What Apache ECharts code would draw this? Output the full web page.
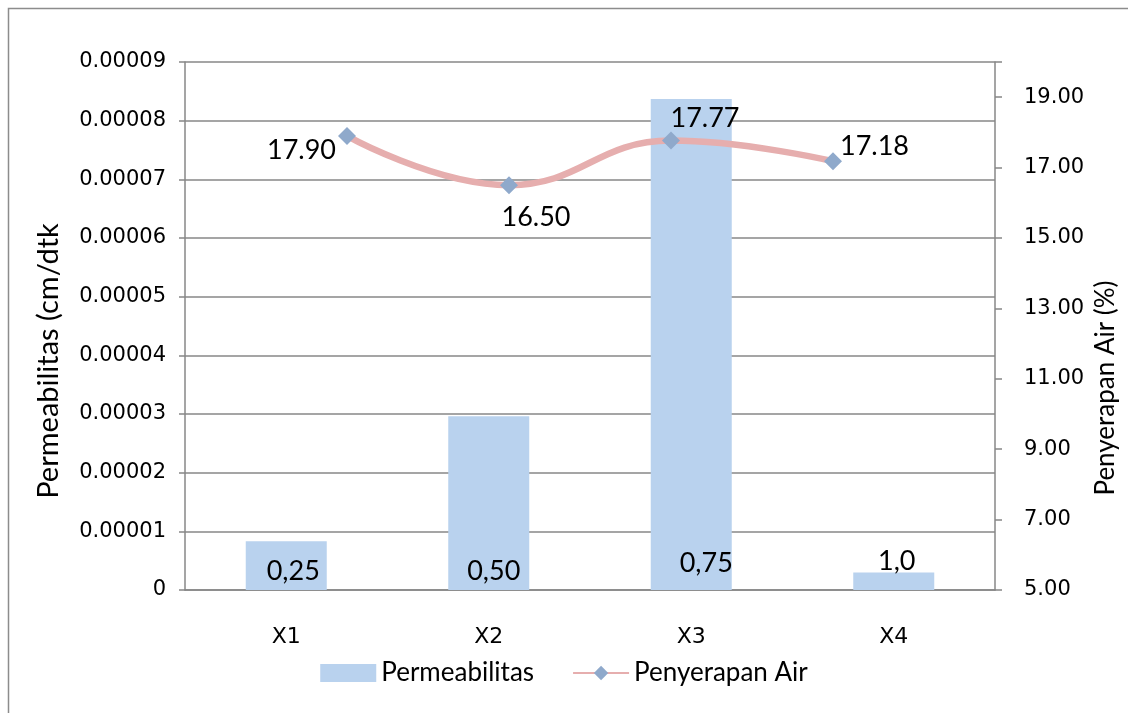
<!DOCTYPE html>
<html>
<head>
<meta charset="utf-8">
<script src="https://cdn.jsdelivr.net/npm/echarts@6/dist/echarts.min.js"></script>
<style>html,body{margin:0;padding:0;background:#fff}#c{width:1128px;height:713px}</style>
</head>
<body>
<div id="c"></div>
<script>
const categories = ['X1', 'X2', 'X3', 'X4'];
const permeabilitas = [0.0000083, 0.0000296, 0.0000837, 0.0000030];
const barLabels = ['0,25', '0,50', '0,75', '1,0'];
const penyerapanAir = [17.90, 16.50, 17.77, 17.18];
const leftAxisTitle = 'Permeabilitas (cm/dtk';
const rightAxisTitle = 'Penyerapan Air (%)';

const chart = echarts.init(document.getElementById('c'));
const axisGray = '#878787';
const tickFont = 'DejaVu Sans';
const labelFont = 'Lato';

const barLabelCfg = [
  { offset: [7, 0] }, { offset: [5, 0] }, { offset: [15, -8] }, { offset: [3, -10] }
];
const lineLabelCfg = [
  { position: 'left', distance: 2, offset: [0, 14] },
  { position: 'bottom', distance: 10, offset: [27, 0] },
  { position: 'top', distance: 0, offset: [34, 0] },
  { position: 'right', distance: 0, offset: [-2, -15] }
];

const option = {
  animation: false,
  backgroundColor: '#fff',
  graphic: [{
    type: 'rect', shape: { x: 8.5, y: 8.5, width: 1130, height: 720 },
    style: { fill: 'none', stroke: '#8c8c8c', lineWidth: 1.5 }, silent: true
  }, {
    type: 'text', x: 49, y: 361, rotation: Math.PI / 2, silent: true,
    style: { text: leftAxisTitle, fontFamily: labelFont, fontSize: 29, fill: '#000', align: 'center', verticalAlign: 'middle' }
  }, {
    type: 'text', x: 1106, y: 388, rotation: Math.PI / 2, silent: true,
    style: { text: rightAxisTitle, fontFamily: labelFont, fontSize: 26, fill: '#000', align: 'center', verticalAlign: 'middle' }
  }],
  grid: { left: 185, right: 133, top: 62, bottom: 123 },
  legend: {
    bottom: 22, left: 'center', itemGap: 38, itemWidth: 56, itemHeight: 18,
    textStyle: { fontFamily: labelFont, fontSize: 26, color: '#000' },
    data: [
      { name: 'Permeabilitas', icon: 'rect' },
      { name: 'Penyerapan Air' }
    ]
  },
  xAxis: [{
    type: 'category', data: categories, boundaryGap: true,
    axisLine: { lineStyle: { color: axisGray, width: 1.5 } },
    axisTick: { length: 7, lineStyle: { color: axisGray, width: 1.5 } },
    axisLabel: { fontFamily: tickFont, fontSize: 22, color: '#000', margin: 36 }
  }, {
    type: 'value', min: 0, max: categories.length + 1, show: false
  }],
  yAxis: [{
    type: 'value', min: 0, max: 0.00009, interval: 0.00001,
    axisLine: { show: true, lineStyle: { color: axisGray, width: 1.5 } },
    axisTick: { show: true, length: 6, lineStyle: { color: axisGray, width: 1.5 } },
    axisLabel: {
      fontFamily: tickFont, fontSize: 21, color: '#000', margin: 19,
      formatter: v => v === 0 ? '0' : v.toFixed(5)
    },
    splitLine: { show: true, lineStyle: { color: axisGray, width: 1.5 } }
  }, {
    type: 'value', min: 5, max: 20, interval: 2,
    axisLine: { show: true, lineStyle: { color: axisGray, width: 1.5 } },
    axisTick: { show: true, length: 7, lineStyle: { color: axisGray, width: 1.5 } },
    axisLabel: {
      fontFamily: tickFont, fontSize: 21, color: '#000', margin: 29,
      formatter: v => (v > 19.5 ? '' : v.toFixed(2))
    },
    splitLine: { show: false }
  }],
  series: [{
    name: 'Permeabilitas', type: 'bar', xAxisIndex: 0, yAxisIndex: 0,
    barWidth: '40%',
    itemStyle: { color: '#b9d2ee' },
    data: permeabilitas.map((v, i) => ({
      value: v,
      label: {
        show: true, position: 'insideBottom', distance: 5,
        offset: barLabelCfg[i].offset,
        formatter: barLabels[i],
        fontFamily: labelFont, fontSize: 27, color: '#000'
      }
    }))
  }, {
    name: 'Penyerapan Air', type: 'line', xAxisIndex: 1, yAxisIndex: 1,
    smooth: 0.45,
    symbol: 'diamond', symbolSize: [18, 18],
    lineStyle: { color: '#e6aeae', width: 6.5 },
    itemStyle: { color: '#8fa9cb' },
    data: penyerapanAir.map((v, i) => ({
      value: [i + 1, v],
      label: {
        show: true,
        position: lineLabelCfg[i].position,
        distance: lineLabelCfg[i].distance,
        offset: lineLabelCfg[i].offset,
        formatter: v.toFixed(2),
        fontFamily: labelFont, fontSize: 27, color: '#000'
      }
    }))
  }]
};
chart.setOption(option);
</script>
</body>
</html>
